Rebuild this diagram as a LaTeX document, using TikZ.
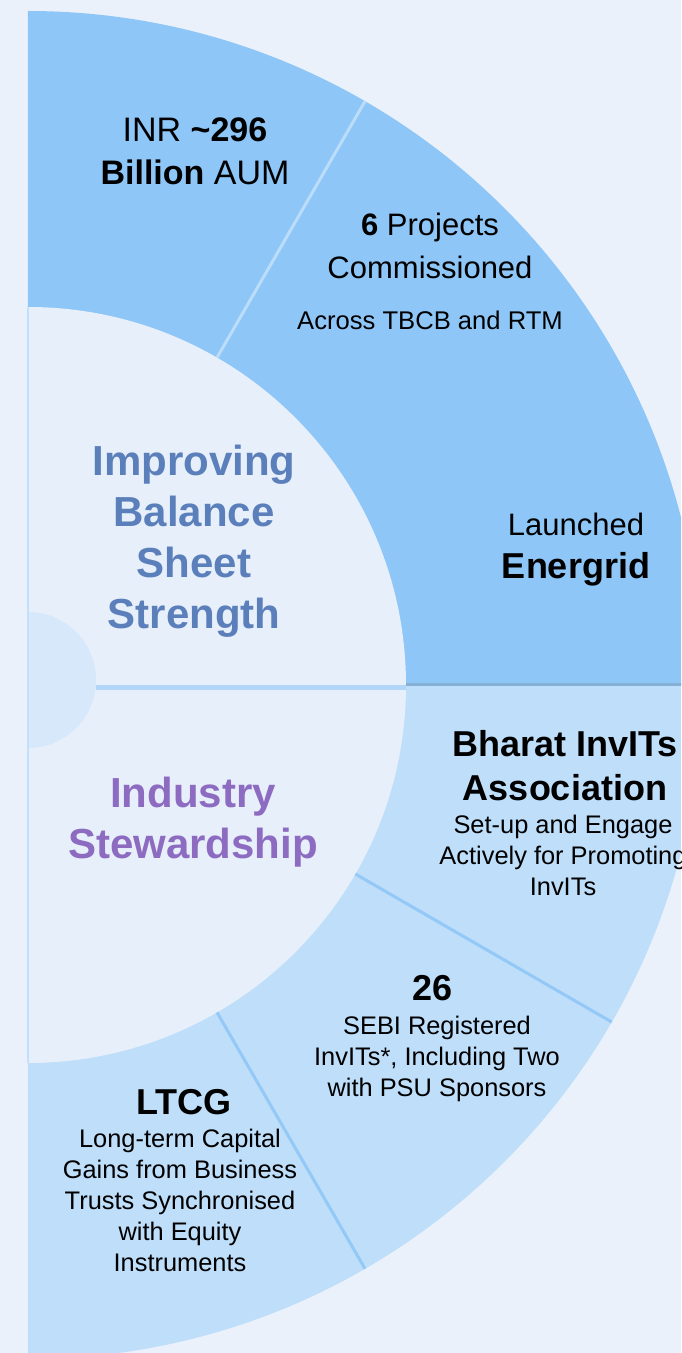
\documentclass[tikz,border=0pt]{standalone}
\usepackage{fontspec}
\setmainfont{Liberation Sans}
\definecolor{pagebg}{HTML}{EAF1FA}
\definecolor{ringtop}{HTML}{8EC6F7}
\definecolor{ringbot}{HTML}{BEDEFA}
\definecolor{innerbg}{HTML}{E6EFFA}
\definecolor{hubc}{HTML}{D6E8FA}
\definecolor{steel}{HTML}{5A7FBA}
\definecolor{plum}{HTML}{8C6BC0}
\begin{document}
\begin{tikzpicture}[x=1pt,y=1pt,
    every node/.style={inner sep=0pt,align=center},
    thead/.style={font=\fontsize{42}{51}\selectfont\bfseries},
    tbig/.style={font=\fontsize{36}{44}\selectfont\bfseries},
    tmid/.style={font=\fontsize{31}{43}\selectfont},
    tsmall/.style={font=\fontsize{25.4}{31}\selectfont},
    spoke/.style={line width=3pt,color=#1}]
  \useasboundingbox (-28,-668) rectangle (653,685);
  \fill[pagebg] (-28,-668) rectangle (653,685);
  \begin{scope}
    \clip (-28,-668) rectangle (653,685);
    \fill[ringtop] (0,0) -- (0,674) arc[start angle=90,end angle=0,radius=674] -- cycle;
    \fill[ringbot] (0,0) -- (674,0) arc[start angle=0,end angle=-90,radius=674] -- cycle;
    \fill[innerbg] (0,378) arc[start angle=90,end angle=-90,radius=378] -- cycle;
    \fill[hubc] (0,73) arc[start angle=90,end angle=-90,radius=68] -- cycle;
    \draw[spoke=ringtop!85!black!90] (378,1) -- (674,1);
    \draw[line width=5pt,color=ringtop!70] (68,-2) -- (378,-2);
    \draw[line width=2pt,color=ringtop!55] (0,-378) -- (0,378);
    \draw[spoke=ringtop!60!white] (60:378) -- (60:674);
    \draw[spoke=ringtop!90!ringbot] (-30:378) -- (-30:674);
    \draw[spoke=ringtop!90!ringbot] (-60:378) -- (-60:674);
  % top half
    \node[font=\fontsize{34}{43}\selectfont] (aum) at (167,534) {INR \textbf{\textasciitilde296}\\\textbf{Billion} AUM};
    \node[tmid] (proj) at (402,439) {\textbf{6} Projects\\Commissioned};
    \node[font=\fontsize{25.6}{31}\selectfont] (tbcb) at (402,365) {Across TBCB and RTM};
    \node[thead,text=steel] (balance) at (166,144) {Improving\\Balance\\Sheet\\Strength};
    \node[tmid] (energrid) at (548,135) {Launched\\\fontsize{36}{43}\selectfont\bfseries Energrid};
  % bottom half
    \node[thead,text=plum] (steward) at (165,-137) {Industry\\Stewardship};
    \node[tbig] (bharat) at (537,-81) {Bharat InvITs\\Association};
    \node[tsmall] (engage) at (535,-170) {Set-up and Engage\\Actively for Promoting\\InvITs};
    \node[tbig] (count) at (405,-303) {26};
    \node[tsmall] (sebi) at (409,-374) {SEBI Registered\\InvITs*, Including Two\\with PSU Sponsors};
    \node[tbig] (ltcg) at (156,-417) {LTCG};
    \node[tsmall] (gains) at (152,-515) {Long-term Capital\\Gains from Business\\Trusts Synchronised\\with Equity\\Instruments};
  \end{scope}
\end{tikzpicture}
\end{document}
